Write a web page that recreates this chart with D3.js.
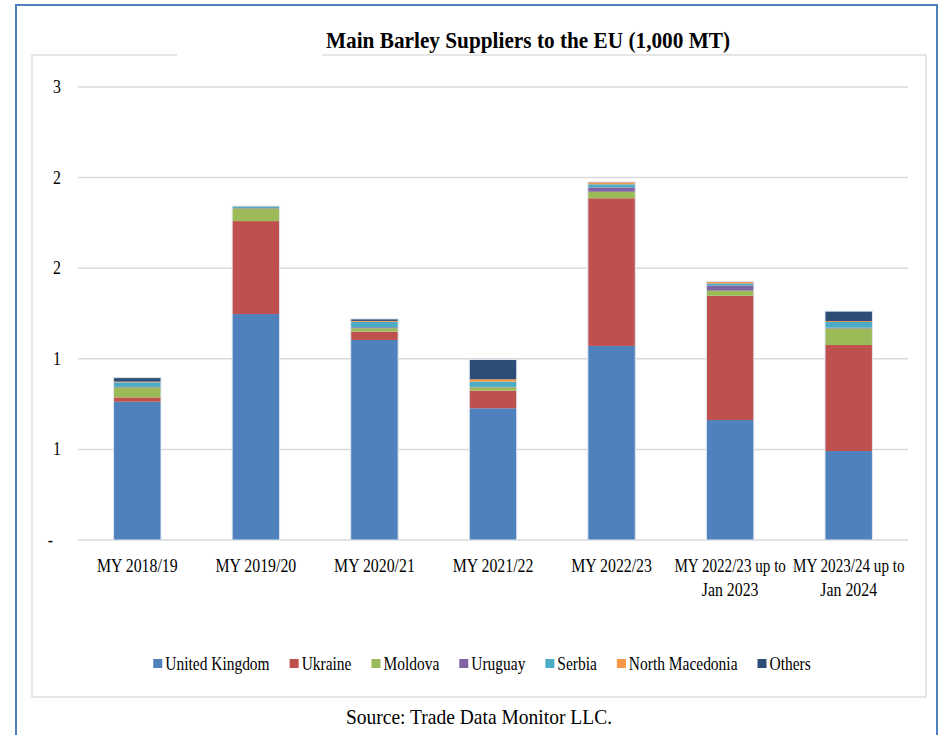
<!DOCTYPE html>
<html>
<head>
<meta charset="utf-8">
<script src="https://cdn.jsdelivr.net/npm/d3@7"></script>
<style>
	html, body { margin: 0; padding: 0; background: #fff; }
	svg text { font-family: "Liberation Serif", "Times New Roman", serif; fill: #000; }
</style>
</head>
<body>
<svg id="chart" width="940" height="735"></svg>
<script>
// categories (marketing years), split into label lines
var categories = [
	["MY 2018/19"],
	["MY 2019/20"],
	["MY 2020/21"],
	["MY 2021/22"],
	["MY 2022/23"],
	["MY 2022/23 up to", "Jan 2023"],
	["MY 2023/24 up to", "Jan 2024"]
];

// series, bottom to top of each stack (million MT)
var seriesNames = ["United Kingdom", "Ukraine", "Moldova", "Uruguay", "Serbia", "North Macedonia", "Others"];
var seriesColors = ["#4f81bd", "#c0504d", "#9bbb59", "#8064a2", "#4bacc6", "#f79646", "#2c4d75"];

var ukValues = [0.763, 1.247, 1.104, 0.727, 1.071, 0.662, 0.491];
var ukraineValues = [0.024, 0.513, 0.046, 0.097, 0.815, 0.686, 0.585];
var moldovaValues = [0.055, 0.070, 0.019, 0.019, 0.036, 0.028, 0.092];
var uruguayValues = [0.003, 0.002, 0.005, 0.002, 0.024, 0.029, 0.004];
var serbiaValues = [0.025, 0.007, 0.030, 0.029, 0.017, 0.011, 0.031];
var northMacedoniaValues = [0.004, 0.002, 0.005, 0.013, 0.011, 0.009, 0.005];
var othersValues = [0.022, 0.002, 0.011, 0.109, 0.002, 0.002, 0.055];

// y ticks and the (rounded) labels the original chart shows
var yTicks = [0, 0.5, 1, 1.5, 2, 2.5];
var yTickLabels = ["-", "1", "1", "2", "2", "3"];

var titleText = "Main Barley Suppliers to the EU (1,000 MT)";
var sourceText = "Source: Trade Data Monitor LLC.";

var NARROW = 0.88;

// the original text is narrow and tall: draw a text at (0,0) and
// squeeze it horizontally with a transform; returns the squeezed width
var narrowText = function (parent, str, px, py, k, anchor, size, weight) {
	var t = parent.append("text")
		.attr("x", 0)
		.attr("y", 0)
		.attr("text-anchor", anchor)
		.attr("font-size", size)
		.attr("transform", "translate(" + px + "," + py + ") scale(" + k + ",1)")
		.text(str);
	if (weight) {
		t.attr("font-weight", weight);
	}
	return t.node().getComputedTextLength() * k;
};

var svg = d3.select("#chart");

// outer blue frame
svg.append("rect")
	.attr("x", 16).attr("y", 5)
	.attr("width", 921).attr("height", 745)
	.attr("fill", "none")
	.attr("stroke", "#4f81bd")
	.attr("stroke-width", 2);

// inner chart box
svg.append("rect")
	.attr("x", 32).attr("y", 55)
	.attr("width", 894).attr("height", 642)
	.attr("fill", "#fff")
	.attr("stroke", "#dedede")
	.attr("stroke-width", 1.5);

// the title's box hides a piece of the chart box top edge
svg.append("rect")
	.attr("x", 177).attr("y", 52)
	.attr("width", 145).attr("height", 6)
	.attr("fill", "#fff");

svg.append("text")
	.attr("x", 528)
	.attr("y", 48)
	.attr("text-anchor", "middle")
	.attr("font-size", "24px")
	.attr("font-weight", "bold")
	.attr("textLength", 404)
	.attr("lengthAdjust", "spacingAndGlyphs")
	.text(titleText);

var x = d3.scaleBand()
	.domain(d3.range(categories.length))
	.range([78, 908])
	.paddingInner(0.6)
	.paddingOuter(0.3);

var y = d3.scaleLinear()
	.domain([0, 2.5])
	.range([540, 87]);

// gridlines
svg.append("g")
	.selectAll("line")
	.data(yTicks)
	.join("line")
	.attr("x1", 78).attr("x2", 908)
	.attr("y1", function (d) { return y(d); })
	.attr("y2", function (d) { return y(d); })
	.attr("stroke", "#d9d9d9")
	.attr("stroke-width", 1.5);

// y axis labels
var gY = svg.append("g");
yTicks.forEach(function (d, i) {
	var lx = yTickLabels[i] === "-" ? 53 : 61;
	narrowText(gY, yTickLabels[i], lx, y(d) + 6, NARROW, "end", "18px");
});

// stacked bars
var allValues = [ukValues, ukraineValues, moldovaValues, uruguayValues, serbiaValues, northMacedoniaValues, othersValues];
var rows = categories.map(function (c, i) {
	var row = {index: i};
	for (var s = 0; s < seriesNames.length; s++) {
		row[seriesNames[s]] = allValues[s][i];
	}
	return row;
});

var stacked = d3.stack().keys(seriesNames)(rows);
var topOf = function (i) { return stacked[stacked.length - 1][i][1]; };

var gBars = svg.append("g");
gBars.selectAll("g")
	.data(stacked)
	.join("g")
	.attr("fill", function (d, i) { return seriesColors[i]; })
	.selectAll("rect")
	.data(function (d) { return d; })
	.join("rect")
	.attr("x", function (d) { return x(d.data.index); })
	.attr("width", x.bandwidth())
	.attr("y", function (d) { return y(d[1]); })
	.attr("height", function (d) { return y(d[0]) - y(d[1]); });

// light edge round each whole bar
gBars.append("g")
	.selectAll("rect")
	.data(rows)
	.join("rect")
	.attr("x", function (d) { return x(d.index); })
	.attr("width", x.bandwidth())
	.attr("y", function (d, i) { return y(topOf(i)); })
	.attr("height", function (d, i) { return y(0) - y(topOf(i)); })
	.attr("fill", "none")
	.attr("stroke", "#dfe6f0")
	.attr("stroke-width", 1);

// x axis labels, one or two lines; the long ones sit close together, as in the original
var gX = svg.append("g");
categories.forEach(function (lines, i) {
	lines.forEach(function (line, j) {
		narrowText(gX, line, x(i) + x.bandwidth() / 2, 572 + j * 24,
			line.length > 12 ? 0.84 : NARROW, "middle", "18px");
	});
});

// legend
var gLegend = svg.append("g");
var legendX = 0;
seriesNames.forEach(function (name, i) {
	var item = gLegend.append("g");
	item.append("rect")
		.attr("x", 0).attr("y", -11)
		.attr("width", 9).attr("height", 9)
		.attr("fill", seriesColors[i]);
	var w = 12 + narrowText(item, name, 12, 0, 0.86, "start", "18px");
	item.attr("transform", "translate(" + legendX + ",0)");
	legendX += w + 20;
});
var legendWidth = legendX - 20;
gLegend.attr("transform", "translate(" + (482 - legendWidth / 2) + ",670)");

// source line under the box
narrowText(svg, sourceText, 479, 724, 0.93, "middle", "21px");
</script>
</body>
</html>
